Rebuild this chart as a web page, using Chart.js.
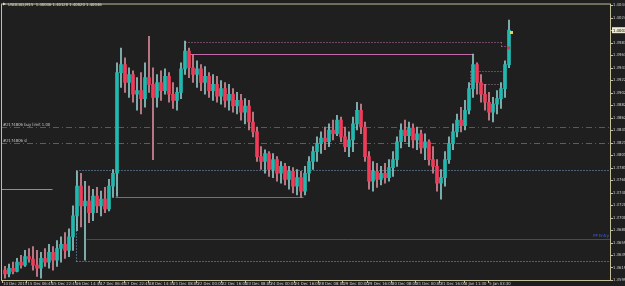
<!DOCTYPE html>
<html>
<head>
<meta charset="utf-8">
<script src="https://cdn.jsdelivr.net/npm/chart.js@4.4.0/dist/chart.umd.min.js"></script>
<style>
  html, body { margin: 0; padding: 0; background: #1f1f1f; }
  #wrap { width: 625px; height: 286px; }
</style>
</head>
<body>
<div id="wrap"><canvas id="chart"></canvas></div>
<script>
// USDCAD M15, one candle per slot
var symbolTitle = 'USDCAD,M15  1.40046 1.40120 1.40020 1.40046';

var opens = [1.3615,1.3609,1.3618,1.3613,1.3628,1.3623,1.3637,1.3633,1.3623,1.3618,
  1.3634,1.3628,1.3644,1.3631,1.3650,1.3657,1.3647,1.3669,1.3703,1.3751,
  1.3719,1.3727,1.3708,1.3735,1.3719,1.3730,1.3714,1.3751,1.3772,1.3935,
  1.3948,1.3919,1.3932,1.3900,1.3906,1.3893,1.3927,1.3916,1.3895,1.3919,
  1.3906,1.3929,1.3900,1.3890,1.3903,1.3941,1.3970,1.3943,1.3932,1.3941,
  1.3919,1.3929,1.3906,1.3916,1.3897,1.3909,1.3890,1.3900,1.3881,1.3890,
  1.3871,1.3881,1.3855,1.3839,1.3799,1.3791,1.3804,1.3778,1.3794,1.3772,
  1.3783,1.3762,1.3775,1.3751,1.3765,1.3743,1.3772,1.3791,1.3807,1.3820,
  1.3829,1.3823,1.3842,1.3836,1.3858,1.3831,1.3815,1.3826,1.3852,1.3874,
  1.3847,1.3799,1.3759,1.3775,1.3762,1.3772,1.3765,1.3781,1.3794,1.3823,
  1.3842,1.3833,1.3845,1.3826,1.3836,1.3813,1.3823,1.3794,1.3783,1.3756,
  1.3765,1.3794,1.3820,1.3839,1.3858,1.3849,1.3874,1.3909,1.3948,1.3919,
  1.3900,1.3887,1.3871,1.3884,1.3893,1.3909,1.3948];

var highs = [1.3621,1.3625,1.3628,1.3634,1.3639,1.3647,1.3650,1.3653,1.3647,1.3644,
  1.3650,1.3657,1.3653,1.3663,1.3669,1.3676,1.3682,1.3719,1.3775,1.3772,
  1.3759,1.3751,1.3746,1.3749,1.3743,1.3749,1.3762,1.3778,1.3951,1.3975,
  1.3959,1.3943,1.3938,1.3927,1.3935,1.3951,1.3994,1.3943,1.3932,1.3938,
  1.3941,1.3935,1.3919,1.3911,1.3951,1.3986,1.3975,1.3964,1.3954,1.3948,
  1.3945,1.3935,1.3932,1.3929,1.3922,1.3919,1.3916,1.3909,1.3903,1.3900,
  1.3893,1.3890,1.3871,1.3847,1.3815,1.3810,1.3807,1.3804,1.3799,1.3791,
  1.3788,1.3783,1.3781,1.3778,1.3775,1.3783,1.3799,1.3815,1.3831,1.3839,
  1.3847,1.3852,1.3858,1.3866,1.3863,1.3847,1.3839,1.3863,1.3887,1.3884,
  1.3855,1.3807,1.3791,1.3788,1.3783,1.3788,1.3794,1.3807,1.3831,1.3852,
  1.3858,1.3855,1.3852,1.3847,1.3842,1.3836,1.3826,1.3815,1.3794,1.3778,
  1.3807,1.3831,1.3852,1.3868,1.3879,1.3890,1.3919,1.3965,1.3951,1.3932,
  1.3916,1.3903,1.3895,1.3906,1.3919,1.3954,1.4020];

var lows = [1.3602,1.3604,1.3609,1.3612,1.3618,1.3621,1.3628,1.3615,1.3605,1.3602,
  1.3621,1.3618,1.3615,1.3621,1.3628,1.3634,1.3637,1.3647,1.3679,1.3685,
  1.3631,1.3692,1.3695,1.3708,1.3703,1.3708,1.3711,1.3733,1.3735,1.3911,
  1.3903,1.3895,1.3887,1.3874,1.3868,1.3879,1.3903,1.3794,1.3879,1.3890,
  1.3900,1.3887,1.3877,1.3874,1.3893,1.3932,1.3927,1.3919,1.3911,1.3906,
  1.3900,1.3895,1.3890,1.3887,1.3884,1.3879,1.3874,1.3871,1.3868,1.3858,
  1.3852,1.3842,1.3831,1.3791,1.3778,1.3772,1.3767,1.3765,1.3759,1.3756,
  1.3753,1.3746,1.3740,1.3737,1.3733,1.3737,1.3759,1.3778,1.3791,1.3804,
  1.3810,1.3815,1.3826,1.3833,1.3823,1.3807,1.3799,1.3807,1.3842,1.3836,
  1.3791,1.3746,1.3743,1.3749,1.3753,1.3756,1.3759,1.3767,1.3783,1.3813,
  1.3823,1.3815,1.3813,1.3810,1.3804,1.3794,1.3785,1.3772,1.3743,1.3730,
  1.3751,1.3788,1.3810,1.3831,1.3839,1.3842,1.3868,1.3895,1.3900,1.3887,
  1.3874,1.3858,1.3855,1.3868,1.3877,1.3895,1.3943];

var closes = [1.3609,1.3618,1.3613,1.3628,1.3623,1.3637,1.3633,1.3623,1.3618,1.3634,
  1.3628,1.3644,1.3631,1.3650,1.3657,1.3647,1.3669,1.3703,1.3751,1.3719,
  1.3727,1.3708,1.3735,1.3719,1.3730,1.3714,1.3751,1.3772,1.3935,1.3948,
  1.3919,1.3932,1.3900,1.3906,1.3893,1.3927,1.3916,1.3895,1.3919,1.3906,
  1.3929,1.3900,1.3890,1.3903,1.3941,1.3970,1.3943,1.3932,1.3941,1.3919,
  1.3929,1.3906,1.3916,1.3897,1.3909,1.3890,1.3900,1.3881,1.3890,1.3871,
  1.3881,1.3855,1.3839,1.3799,1.3791,1.3804,1.3778,1.3794,1.3772,1.3783,
  1.3762,1.3775,1.3751,1.3765,1.3743,1.3772,1.3791,1.3807,1.3820,1.3829,
  1.3823,1.3842,1.3836,1.3858,1.3831,1.3815,1.3826,1.3852,1.3874,1.3847,
  1.3799,1.3759,1.3775,1.3762,1.3772,1.3765,1.3781,1.3794,1.3823,1.3842,
  1.3833,1.3845,1.3826,1.3836,1.3813,1.3823,1.3794,1.3783,1.3756,1.3765,
  1.3794,1.3820,1.3839,1.3858,1.3849,1.3874,1.3909,1.3948,1.3919,1.3900,
  1.3887,1.3871,1.3884,1.3893,1.3909,1.3948,1.4004];

var timeLabels = ['14 Dec 2015','15 Dec 06:45','15 Dec 22:45','16 Dec 14:45','17 Dec 06:45',
  '17 Dec 22:45','18 Dec 14:45','21 Dec 08:00','22 Dec 00:00','22 Dec 16:00','23 Dec 08:00',
  '24 Dec 00:00','24 Dec 16:00','28 Dec 08:00','29 Dec 00:00','29 Dec 16:00','30 Dec 08:00',
  '31 Dec 00:00','31 Dec 16:00','4 Jan 11:30','5 Jan 03:30'];

var priceTicks = [1.40443,1.40241,1.40038,1.39836,1.39633,1.39431,1.39229,1.39026,1.38824,
  1.38621,1.38419,1.38217,1.38014,1.37812,1.37609,1.37407,1.37205,1.37002,1.36800,
  1.36597,1.36395,1.36193,1.35990];

// order levels and drawn objects (price, bar index)
var lastPrice = 1.40038;
var buyLimit = 1.3847;
var stopLoss = 1.3821;
var entryLevel = 1.3666, entryFrom = 20.25;
var zoneTop = 1.3778, zoneBottom = 1.3629, zoneFrom = 17.75;
var baseLevel = 1.3733, baseFrom = 27.5, baseTo = 74.5;
var breakBox = [26.75, 28, 1.3775, 1.3732];
var oldLevel = 1.3746, oldTo = 11.75;
var highLine = 1.3985, highStep = 1.3978, highFrom = 45, highMid = 124, highTo = 126.25;
var resistance = 1.3965, resFrom = 45.75, resTo = 117;
var pullBox = [116.25, 124.5, 1.3938, 1.3916];

var BULL = '#22b8b0', BEAR = '#f03c5a', FRAME = '#c6bf9c', TXT = '#d0d0d0';
var FAMILY = '"Liberation Sans Narrow", "DejaVu Sans Condensed", sans-serif';
var FONT = '4.2px ' + FAMILY;

var wicks = [], bodies = [], wickCol = [], bodyCol = [];
for (var i = 0; i < opens.length; i++) {
  var up = closes[i] >= opens[i];
  wicks.push({ x: i, y: [lows[i], highs[i]] });
  bodies.push({ x: i, y: [Math.min(opens[i], closes[i]), Math.max(opens[i], closes[i])] });
  wickCol.push(up ? '#8fc8c8' : '#d88898');
  bodyCol.push(up ? BULL : BEAR);
}

function line(ctx, x0, y0, x1, y1, color, dash) {
  ctx.save();
  ctx.strokeStyle = color;
  ctx.lineWidth = 1;
  ctx.setLineDash(dash || []);
  ctx.beginPath();
  ctx.moveTo(x0, y0);
  ctx.lineTo(x1, y1);
  ctx.stroke();
  ctx.restore();
}

var objects = {
  id: 'objects',
  beforeDraw: function(chart) {
    var c = chart.ctx;
    c.save();
    c.fillStyle = '#1f1f1f';
    c.fillRect(0, 0, chart.width, chart.height);
    c.restore();
  },
  beforeDatasetsDraw: function(chart) {
    var c = chart.ctx, a = chart.chartArea;
    var xs = chart.scales.x, ys = chart.scales.y;
    var X = function(v) { return Math.round(xs.getPixelForValue(v)) + 0.5; };
    var Y = function(v) { return Math.round(ys.getPixelForValue(v)) + 0.5; };
    var dot = [1, 2], dashDot = [6, 3, 1, 3];

    line(c, a.left, Y(buyLimit), a.right, Y(buyLimit), '#5a5a5a', dashDot);
    line(c, a.left, Y(stopLoss), a.right, Y(stopLoss), '#c03a10', dashDot);

    line(c, X(zoneFrom), Y(zoneTop), a.right, Y(zoneTop), '#7fa2c8', dot);
    line(c, X(zoneFrom), Y(zoneBottom), a.right, Y(zoneBottom), '#7fa2c8', dot);
    line(c, X(zoneFrom), Y(zoneTop), X(zoneFrom), Y(zoneBottom), '#7fa2c8', dot);

    line(c, X(breakBox[0]), Y(breakBox[2]), X(breakBox[1]), Y(breakBox[2]), '#3c86d8', dot);
    line(c, X(breakBox[1]), Y(breakBox[2]), X(breakBox[1]), Y(breakBox[3]), '#3c86d8', dot);
    line(c, X(baseFrom), Y(baseLevel), X(baseTo), Y(baseLevel), '#2f7ee0');

    line(c, X(entryFrom), Y(entryLevel), a.right, Y(entryLevel), '#1f45e0');
    line(c, a.left, Y(oldLevel), X(oldTo), Y(oldLevel), '#e060b0');

    line(c, X(highFrom), Y(highLine), X(highMid), Y(highLine), '#c070a8', dot);
    line(c, X(highMid), Y(highLine), X(highMid), Y(highStep), '#c070a8', dot);
    line(c, X(highMid), Y(highStep), X(highTo), Y(highStep), '#c070a8', dot);
    line(c, X(highFrom), Y(highLine), X(highFrom), Y(resistance), '#c070a8', dot);
    line(c, X(resFrom), Y(resistance), X(resTo), Y(resistance), '#c068a8');

    line(c, X(pullBox[0]), Y(pullBox[2]), X(pullBox[1]), Y(pullBox[2]), '#a07c98', dot);
    line(c, X(pullBox[0]), Y(pullBox[3]), X(pullBox[1]), Y(pullBox[3]), '#a07c98', dot);
    line(c, X(pullBox[0]), Y(pullBox[2]), X(pullBox[0]), Y(pullBox[3]), '#a07c98', dot);
    line(c, X(pullBox[1]), Y(pullBox[2]), X(pullBox[1]), Y(pullBox[3]), '#a07c98', dot);
  },
  afterDraw: function(chart) {
    var c = chart.ctx, a = chart.chartArea;
    var xs = chart.scales.x, ys = chart.scales.y;
    c.save();
    c.font = FONT;
    c.textBaseline = 'middle';

    c.fillStyle = '#c4c4c4';
    c.fillText('#2174806 buy limit 1.00', 3, ys.getPixelForValue(buyLimit) - 2);
    c.fillText('#2174806 sl', 3, ys.getPixelForValue(stopLoss) - 2);
    c.fillStyle = '#3c64f0';
    c.textAlign = 'right';
    c.fillText('PP Entry', a.right - 2, ys.getPixelForValue(entryLevel) - 3);
    c.textAlign = 'left';

    // title
    c.fillStyle = '#ececec';
    c.beginPath();
    c.moveTo(3, 2.5); c.lineTo(6, 4); c.lineTo(3, 5.5); c.closePath(); c.fill();
    c.fillText(symbolTitle, 8, 4.5);

    // markers on last bar
    var lx = xs.getPixelForValue(opens.length - 1);
    c.fillStyle = '#e8d060';
    c.fillRect(lx + 1, ys.getPixelForValue(1.4000) - 1.5, 3, 3);
    c.fillStyle = '#e03040';
    c.fillRect(lx - 2, ys.getPixelForValue(1.3975) - 1.5, 3, 3);

    // frame and tick marks
    c.strokeStyle = FRAME;
    c.lineWidth = 1;
    c.strokeRect(a.left + 0.5, a.top - 0.5, a.right - a.left - 1, a.bottom - a.top + 1);
    c.beginPath();
    priceTicks.forEach(function(p) {
      var y = Math.round(ys.getPixelForValue(p)) + 0.5;
      c.moveTo(a.right, y); c.lineTo(a.right + 2, y);
    });
    xs.ticks.forEach(function(t) {
      var x = Math.round(xs.getPixelForValue(t.value)) + 0.5;
      c.moveTo(x, a.bottom); c.lineTo(x, a.bottom + 3);
    });
    c.stroke();

    // current price box
    var py = ys.getPixelForValue(lastPrice);
    c.fillStyle = '#ecead2';
    c.fillRect(a.right + 1, py - 3, 14, 6);
    c.fillStyle = '#000';
    c.fillText(lastPrice.toFixed(5), a.right + 2, py + 0.3);
    c.restore();
  }
};

new Chart(document.getElementById('chart'), {
  type: 'bar',
  data: {
    datasets: [{
      data: wicks,
      backgroundColor: wickCol,
      barThickness: 1,
      grouped: false,
      borderWidth: 0,
      order: 2
    }, {
      data: bodies,
      backgroundColor: bodyCol,
      barThickness: 3,
      grouped: false,
      borderWidth: 0,
      order: 1
    }]
  },
  options: {
    responsive: true,
    maintainAspectRatio: false,
    animation: false,
    events: [],
    layout: { padding: { left: 1, top: 1, right: 0, bottom: 0 } },
    plugins: { legend: { display: false }, tooltip: { enabled: false } },
    scales: {
      x: {
        type: 'linear',
        min: -1,
        max: 151.5,
        offset: false,
        grid: { display: false, drawTicks: false },
        border: { display: false },
        afterBuildTicks: function(s) {
          s.ticks = timeLabels.map(function(_, k) { return { value: -0.75 + k * 6.075 }; });
        },
        afterFit: function(s) { s.height = 6; },
        ticks: {
          autoSkip: false,
          maxRotation: 0,
          align: 'start',
          padding: 1,
          color: TXT,
          font: { size: 4.2, family: FAMILY },
          callback: function(v, i) { return ' ' + timeLabels[i]; }
        }
      },
      y: {
        position: 'right',
        min: 1.3599,
        max: 1.40454,
        grid: { display: false, drawTicks: false },
        border: { display: false },
        afterBuildTicks: function(s) {
          s.ticks = priceTicks.map(function(p) { return { value: p }; });
        },
        afterFit: function(s) { s.width = 14; },
        ticks: {
          padding: 2,
          color: TXT,
          font: { size: 4.2, family: FAMILY },
          callback: function(v) { return v.toFixed(5); }
        }
      }
    }
  },
  plugins: [objects]
});
</script>
</body>
</html>
